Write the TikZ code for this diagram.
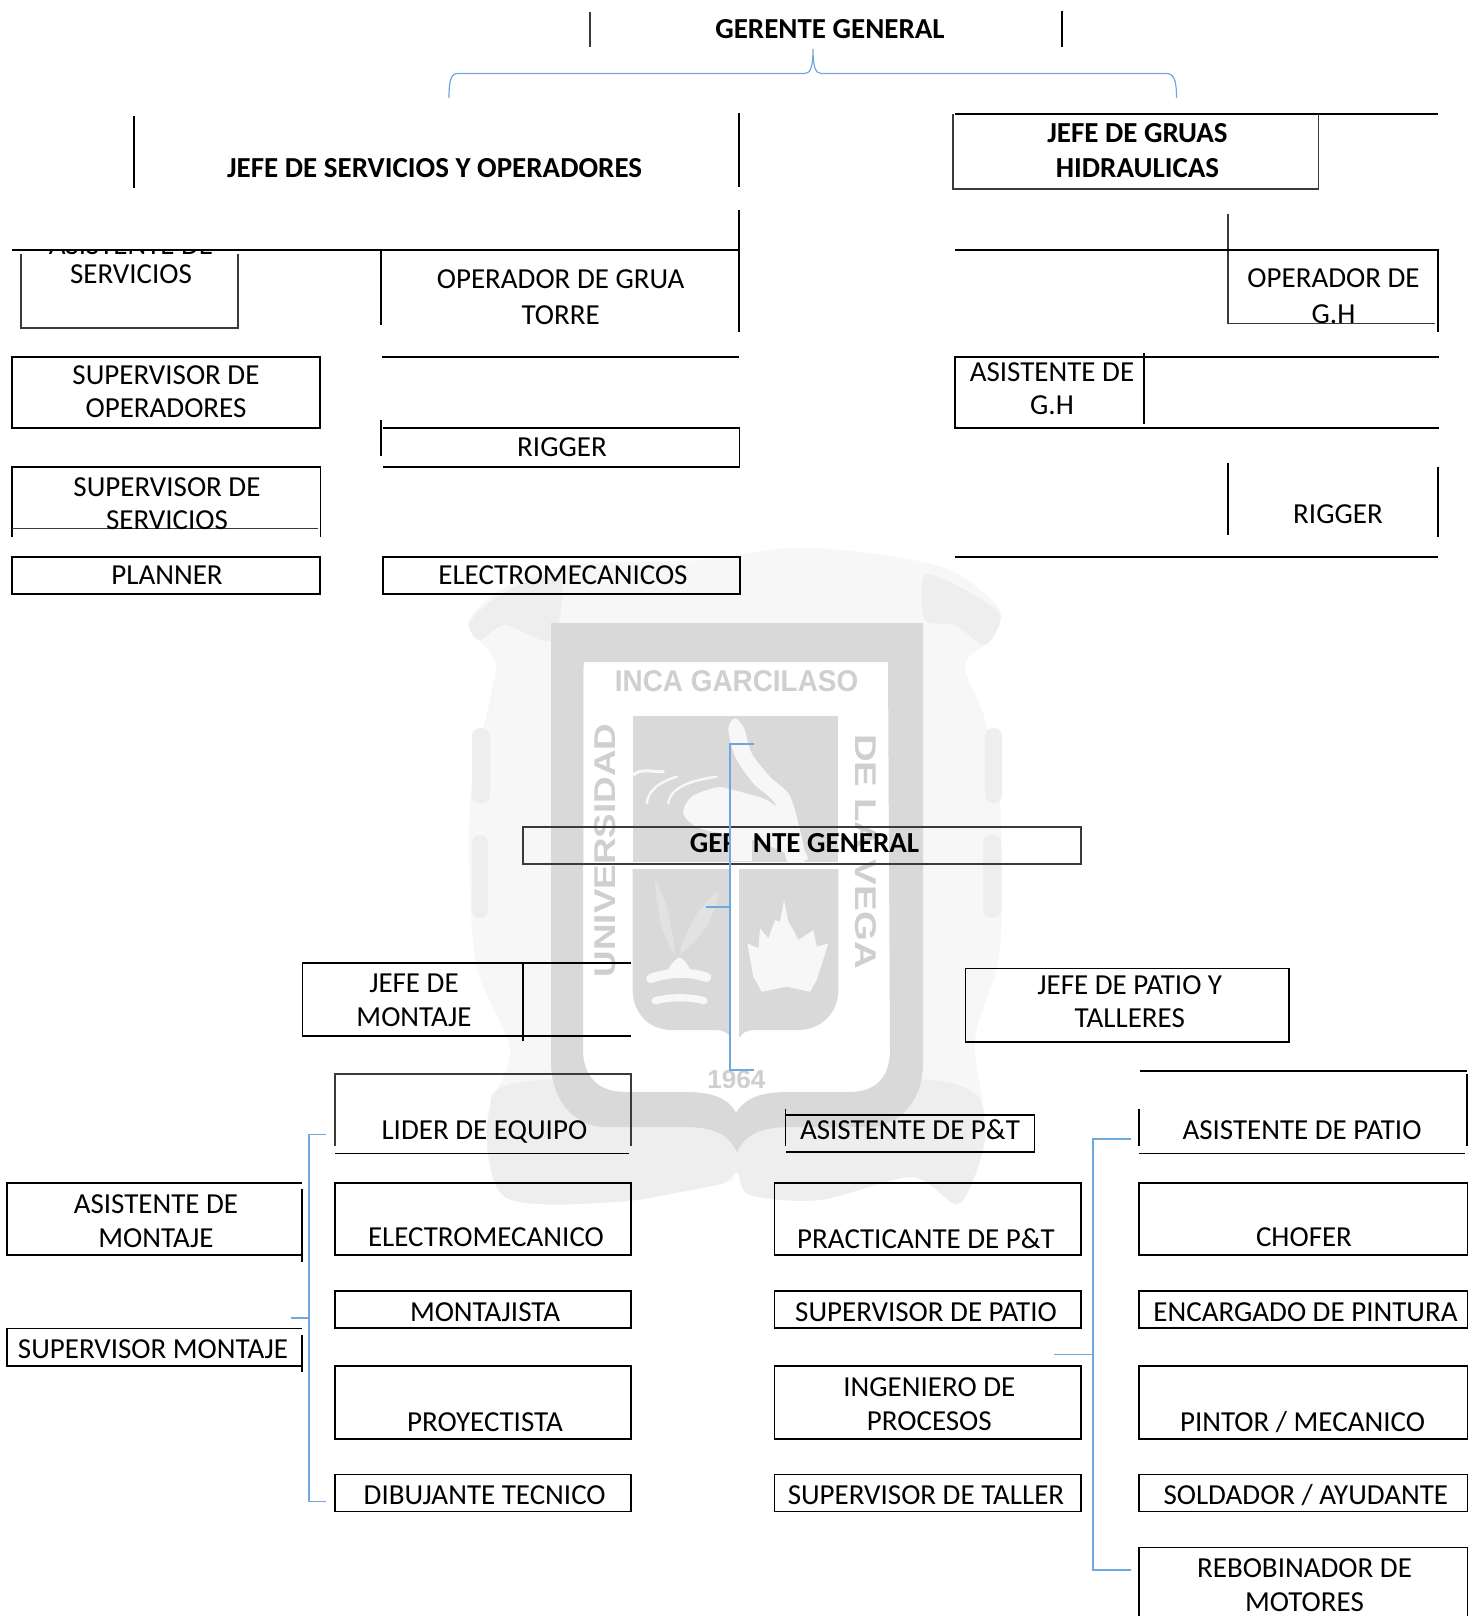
\documentclass[tikz,border=0pt]{standalone}
\usepackage{fontspec}
\setmainfont{Carlito}
\newfontfamily\wmfont{Liberation Sans}
\definecolor{wmA}{HTML}{D9D9D9}
\definecolor{wmB}{HTML}{F7F7F7}
\definecolor{wmC}{HTML}{EEEEEE}
\definecolor{wmD}{HTML}{E2E2E2}
\definecolor{wmT}{HTML}{CFCFCF}
\definecolor{linkblue}{HTML}{6FA8DC}
\definecolor{thingray}{HTML}{3A3A3A}
\tikzset{
  ln/.style={draw=black,line width=0.95pt},
  lnb/.style={draw=black,line width=0.7pt},
  gl/.style={draw=thingray,line width=0.65pt},
  link/.style={draw=linkblue,line width=0.9pt},
  brace/.style={draw=linkblue,line width=0.6pt},
  lab/.style={inner sep=0pt,align=center,font=\fontsize{14.5}{16.75}\selectfont,text=black,yshift=-0.15pt},
  labo/.style={lab,text height=9.35pt,text depth=0pt},
  bold/.style={font=\fontsize{14.5}{17.5}\selectfont\bfseries},
  bolo/.style={lab,text height=9.3pt,text depth=0pt,bold},
  wm/.style={inner sep=0pt,text=wmT,font=\wmfont\bfseries\fontsize{15}{15}\selectfont}
}
\begin{document}
\begin{tikzpicture}[x=0.5pt,y=-0.5pt]
\useasboundingbox (0,0) rectangle (1477,1616);
% --- watermark
\fill[wmB] plot[smooth cycle] coordinates {(468,625)(500,590)(570,565)(700,560)(790,548)(870,553)(950,570)(1000,610)(990,640)(965,665)(985,720)(1000,800)(1000,950)(975,1040)(985,1130)(960,1203)(912,1177)(820,1200)(750,1195)(737,1172)(724,1183)(616,1202)(505,1197)(487,1120)(510,1050)(475,960)(470,800)(490,700)(495,660)};
\fill[wmC] plot[smooth cycle] coordinates {(470,622)(505,592)(560,575)(552,640)(505,625)(480,640)};
\fill[wmC] plot[smooth cycle] coordinates {(925,575)(965,590)(1000,615)(985,645)(955,625)(925,620)};
\fill[wmC,rounded corners=4pt] (472,728) rectangle (490,803);
\fill[wmC,rounded corners=4pt] (472,835) rectangle (488,918);
\fill[wmC,rounded corners=4pt] (985,728) rectangle (1002,803);
\fill[wmC,rounded corners=4pt] (983,835) rectangle (1001,918);
\fill[wmC] plot[smooth cycle] coordinates {(489,1115)(505,1197)(616,1202)(690,1190)(724,1183)(737,1172)(750,1195)(820,1200)(912,1177)(960,1203)(985,1125)(930,1080)(540,1080)};
\fill[white] (583.5,662) -- (888,662) -- (890,1050) .. controls (890,1078) and (875,1092) .. (850,1092) -- (790,1092) .. controls (760,1092) and (745,1098) .. (736,1113) .. controls (728,1098) and (712,1092) .. (685,1092) -- (625,1092) .. controls (600,1092) and (583,1078) .. (583,1050) -- cycle;
\fill[wmA,even odd rule] (551,623) -- (923,623) -- (923,1063) .. controls (923,1100) and (900,1127) .. (868,1127) -- (790,1127) .. controls (760,1127) and (745,1135) .. (737,1152) .. controls (729,1135) and (715,1127) .. (685,1127) -- (605,1127) .. controls (575,1127) and (551,1100) .. (551,1063) -- cycle
 (583.5,662) -- (888,662) -- (890,1050) .. controls (890,1078) and (875,1092) .. (850,1092) -- (790,1092) .. controls (760,1092) and (745,1098) .. (736,1113) .. controls (728,1098) and (712,1092) .. (685,1092) -- (625,1092) .. controls (600,1092) and (583,1078) .. (583,1050) -- cycle;
\fill[wmA] (632.7,715.7) rectangle (838.3,861.7);
\fill[wmA] (632.7,869) -- (731,869) -- (731,1038) .. controls (728,1032) and (722,1030) .. (715,1030) -- (672,1030) .. controls (648,1030) and (632.7,1012) .. (632.7,990) -- cycle;
\fill[wmA] (739,869) -- (838.3,869) -- (838.3,990) .. controls (838.3,1012) and (822,1030) .. (798,1030) -- (755,1030) .. controls (748,1030) and (742,1032) .. (739,1038) -- cycle;
\begin{scope}[shift={(620,700)},x=0.1667pt,y=-0.1667pt]
\fill[wmB] plot[smooth cycle] coordinates {(325,85)(345,55)(372,85)(395,160)(450,230)(505,280)(530,350)(555,480)(500,480)(470,320)(400,250)(345,170)};
\fill[wmB] plot[smooth cycle] coordinates {(190,340)(215,290)(290,262)(340,270)(440,300)(500,350)(520,400)(560,480)(400,420)(240,385)};
\draw[wmB,line width=1.5pt,line cap=round] (40,225) .. controls (60,205) and (90,215) .. (130,215);
\draw[wmB,line width=1.2pt,line cap=round] (80,310) .. controls (85,270) and (120,245) .. (170,230);
\draw[wmB,line width=1.2pt,line cap=round] (145,310) .. controls (150,260) and (220,240) .. (290,230);
\fill[wmD] plot[smooth cycle] coordinates {(105,545)(140,620)(165,760)(125,680)};
\fill[wmD] plot[smooth cycle] coordinates {(295,575)(260,680)(180,760)(225,650)};
\fill[wmB] plot[smooth cycle] coordinates {(145,810)(178,772)(210,810)(178,825)};
\draw[wmB,line width=4.6pt,line cap=round] (92,835) .. controls (150,815) and (210,815) .. (260,832);
\draw[wmB,line width=3.6pt,line cap=round] (105,902) .. controls (150,890) and (210,890) .. (252,902);
\fill[wmB] (382,730) -- (415,745) -- (420,685) -- (445,715) -- (465,660) -- (480,665) -- (492,600) -- (505,665) -- (520,690) -- (535,720) -- (580,690) -- (590,740) -- (625,730) -- (590,840) -- (570,875) -- (500,860) -- (425,875) -- (400,830) -- cycle;
\end{scope}
\node[wm,xscale=0.93] (wmInca) at (736.6,681) {INCA GARCILASO};
\node[wm,rotate=90,xscale=1.226] (wmUni) at (605,850.5) {UNIVERSIDAD};
\node[wm,rotate=-90,xscale=1.28] (wmVega) at (865.6,851.5) {DE LA VEGA};
\node[wm,font=\wmfont\bfseries\fontsize{13}{13}\selectfont] (wm64) at (736.4,1080) {1964};
% --- top: frames
\path[gl] (590,12) -- (590,47);
\path[lnb] (1062,11) -- (1062,47);
\path[brace] (449,98) .. controls (449,80) and (451,73.5) .. (458,73.5) -- (805,73.5) .. controls (811,73.5) and (813,65) .. (813,49) .. controls (813,65) and (815,73.5) .. (821,73.5) -- (1166,73.5) .. controls (1174,73.5) and (1176.5,80) .. (1176.5,98);
\path[ln] (134,116) -- (134,187.5);
\path[ln] (739,113) -- (739,186.6);
\path[ln] (739,210) -- (739,332);
\path[ln] (12,250) -- (739,250);
\path[gl] (21,254) -- (21,328) -- (238,328) -- (238,254);
\path[ln] (381,250) -- (381,325);
\path[ln] (382,356.7) -- (739,356.7);
\path[ln] (12,357) rectangle (320,428);
\path[ln] (381,420) -- (381,455.5);
\path[ln] (383,428) -- (739.5,428) -- (739.5,467) -- (383,467);
\path[ln] (12,536.6) -- (12,467) -- (320.5,467) -- (320.5,536.6);
\path[gl] (12,528.7) -- (318,528.7);
\path[ln] (12,557) rectangle (320,594);
\path[ln] (383,557) rectangle (740,594);
% right top
\path[ln] (955,114) -- (1438,114);
\path[gl] (953,114) -- (953,189) -- (1318.5,189) -- (1318.5,114);
\path[gl] (1228,213.5) -- (1228,323.5) -- (1434.5,323.5);
\path[ln] (955,250) -- (1438,250) -- (1438,332);
\path[ln] (1439,357) -- (955,357) -- (955,428) -- (1439,428);
\path[ln] (1143.7,353) -- (1143.7,424);
\path[ln] (1228,463.4) -- (1228,534.6);
\path[ln] (1438,466.6) -- (1438,536.6);
\path[ln] (955,557) -- (1438,557);
% --- top: labels
\node[bolo] (gg1) at (830,29) {GERENTE GENERAL};
\node[bolo] (jso) at (434.6,167.7) {JEFE DE SERVICIOS Y OPERADORES};
\node[lab,bold] (jgh) at (1137.5,150.5) {JEFE DE GRUAS\\HIDRAULICAS};
\begin{scope}
\clip (0,251) rectangle (300,300);
\node[lab,font=\fontsize{14.5}{14.5}\selectfont] (asv) at (131,259.5) {ASISTENTE DE\\SERVICIOS};
\end{scope}
\node[lab,font=\fontsize{14.5}{18}\selectfont] (ogt) at (560.6,297) {OPERADOR DE GRUA\\TORRE};
\node[lab] (sop) at (166,391.5) {SUPERVISOR DE\\OPERADORES};
\node[labo] (rg1) at (562,447) {RIGGER};
\node[lab] (sse) at (167,503.5) {SUPERVISOR DE\\SERVICIOS};
\node[labo] (pla) at (167,574.5) {PLANNER};
\node[labo] (ele) at (563,574.5) {ELECTROMECANICOS};
\node[lab,font=\fontsize{14.5}{18}\selectfont] (ogh) at (1333.5,296) {OPERADOR DE\\G.H};
\node[lab] (agh) at (1052,388.5) {ASISTENTE DE\\G.H};
\node[labo] (rg2) at (1338,514) {RIGGER};
% --- middle
\path[gl] (523,827) rectangle (1081,864);
\node[bolo] (gg2) at (804.5,843) {GERENTE GENERAL};
\fill[wmB] (731,829) rectangle (752,861);
\path[link] (754,744) -- (730,744) -- (730,1070) -- (754,1070);
\path[link] (706,906.7) -- (730,906.7);
% --- montaje
\path[lnb] (631,963) -- (302.5,963) -- (302.5,1036) -- (631,1036);
\path[lnb] (523,963) -- (523,1041);
\node[lab] (jmo) at (414,1000) {JEFE DE\\MONTAJE};
\path[gl] (335,1146) -- (335,1074) -- (631,1074) -- (631,1146);
\path[lnb] (335,1153.5) -- (629,1153.5);
\node[labo] (lid) at (484.4,1130) {LIDER DE EQUIPO};
\path[lnb] (335,1183) rectangle (631,1255);
\node[labo] (elm) at (486,1237) {ELECTROMECANICO};
\path[lnb] (335,1291) rectangle (631,1328);
\node[labo] (mon) at (485,1312) {MONTAJISTA};
\path[lnb] (335,1366) rectangle (631,1439);
\node[labo] (pro) at (485,1422) {PROYECTISTA};
\path[lnb] (335,1474.6) rectangle (631,1511.6);
\node[labo] (dib) at (484.7,1494.6) {DIBUJANTE TECNICO};
\path[link] (326,1134.4) -- (309,1134.4) -- (309,1501.4) -- (326,1501.4);
\path[link] (290.7,1318) -- (309,1318);
\path[lnb] (302,1183) -- (7,1183) -- (7,1255) -- (302,1255);
\path[lnb] (302,1189) -- (302,1262);
\node[lab] (amo) at (156,1221) {ASISTENTE DE\\MONTAJE};
\path[lnb] (302,1328.5) -- (7,1328.5) -- (7,1366) -- (302,1366);
\path[lnb] (302,1334.5) -- (302,1372);
\node[labo] (smo) at (153,1349) {SUPERVISOR MONTAJE};
% --- patio
\path[lnb] (965.6,968.7) rectangle (1289,1041.8);
\node[lab] (jpt) at (1129.8,1001.5) {JEFE DE PATIO Y\\TALLERES};
\path[lnb] (785.6,1108.5) -- (785.6,1146);
\path[lnb] (785.6,1115) -- (1034.6,1115) -- (1034.6,1152) -- (785.6,1152);
\node[labo] (apt) at (910,1130) {ASISTENTE DE P\&T};
\path[lnb] (774.3,1183) rectangle (1081,1255);
\node[labo] (prc) at (926,1239) {PRACTICANTE DE P\&T};
\path[lnb] (774.3,1291) rectangle (1081,1328);
\node[labo] (spa) at (926,1312) {SUPERVISOR DE PATIO};
\path[lnb] (774.3,1366) rectangle (1081,1439);
\node[lab] (ing) at (929.3,1404) {INGENIERO DE\\PROCESOS};
\path[lnb] (774.3,1474.6) rectangle (1081,1511.6);
\node[labo] (sta) at (926,1495) {SUPERVISOR DE TALLER};
\path[lnb] (1140,1071) -- (1466.5,1071);
\path[lnb] (1467,1074) -- (1467,1146);
\path[lnb] (1139,1108.5) -- (1139,1146);
\path[lnb] (1139,1153.5) -- (1464.6,1153.5);
\node[labo] (apa) at (1302,1130) {ASISTENTE DE PATIO};
\path[lnb] (1139,1183) rectangle (1467.5,1255);
\node[labo] (cho) at (1304,1237) {CHOFER};
\path[lnb] (1139,1291) rectangle (1467.5,1328);
\node[labo] (enc) at (1305.5,1312) {ENCARGADO DE PINTURA};
\path[lnb] (1139,1366) rectangle (1467.5,1439);
\node[labo] (pin) at (1302.5,1422) {PINTOR / MECANICO};
\path[lnb] (1139,1474.6) rectangle (1467.5,1511.6);
\node[labo] (sol) at (1305.8,1495) {SOLDADOR / AYUDANTE};
\path[lnb] (1139,1616) -- (1139,1547.7) -- (1467.5,1547.7) -- (1467.5,1616);
\node[lab] (reb) at (1304.5,1585) {REBOBINADOR DE\\MOTORES};
\path[link] (1130.5,1139) -- (1093,1139) -- (1093,1570) -- (1130.5,1570);
\path[link] (1054,1354.4) -- (1093,1354.4);
\end{tikzpicture}
\end{document}
